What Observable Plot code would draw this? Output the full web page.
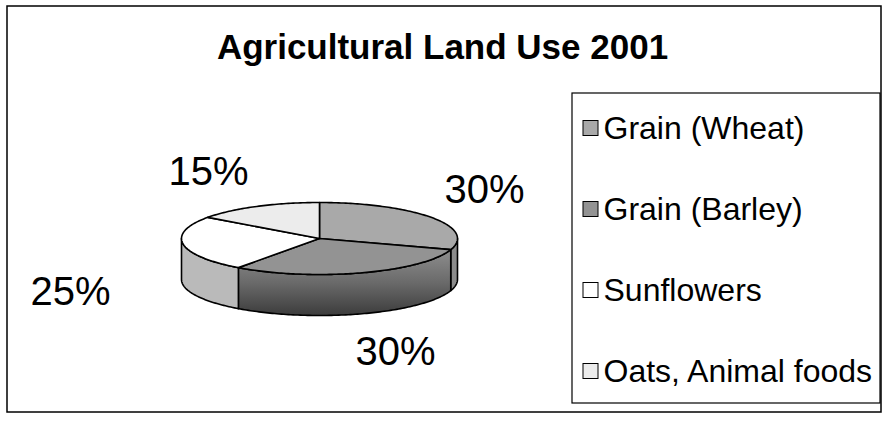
<!DOCTYPE html>
<html><head><meta charset="utf-8">
<script src="https://cdn.jsdelivr.net/npm/d3@7"></script>
<script src="https://cdn.jsdelivr.net/npm/@observablehq/plot@0.6"></script>
<style>html,body{margin:0;padding:0;background:#fff;}</style>
</head><body><div id="chart"></div>
<script>
// ---- data ----
const title = "Agricultural Land Use 2001";
const categories = ["Grain (Wheat)", "Grain (Barley)", "Sunflowers", "Oats, Animal foods"];
const values = [30, 30, 25, 15];
const topColors = ["#a9a9a9", "#939393", "#ffffff", "#ececec"];
const sideColors = ["#8c8c8c", "url(#barleySide)", "#bababa", "#cfcfcf"];

// ---- layout (pixels) ----
const W = 883, H = 430;
const font = "Liberation Sans, Arial, Helvetica, sans-serif";
const pie = {cx: 319, cy: 238, rx: 138, ry: 36, depth: 41};
const labelCenters = [[484, 190], [395, 352], [70, 292], [208, 172]]; // per slice label anchor
const legendBox = {x1: 572, y1: 93, x2: 880, y2: 403};
const legendRows = [128, 209, 290, 371];

// ---- geometry from values ----
const total = d3.sum(values);
let acc = 0;
const slices = categories.map((c, i) => {
  const a0 = acc / total * 360; acc += values[i];
  const a1 = acc / total * 360;
  return {cat: c, value: values[i], a0, a1, i};
});
const rad = d => d * Math.PI / 180;
const topPt = (deg, dy = 0) => ({x: pie.cx + pie.rx * Math.sin(rad(deg)), y: pie.cy - pie.ry * Math.cos(rad(deg)) + dy});

const topPts = [];
for (const s of slices) {
  topPts.push({key: s.cat, x: pie.cx, y: pie.cy});
  const n = Math.max(2, Math.ceil(s.a1 - s.a0));
  for (let k = 0; k <= n; k++) {
    const p = topPt(s.a0 + (s.a1 - s.a0) * k / n);
    topPts.push({key: s.cat, ...p});
  }
}
const sidePts = [];
for (const s of slices) {
  const a = Math.max(s.a0, 90), b = Math.min(s.a1, 270);
  if (b <= a) continue;
  const key = "side:" + s.cat;
  const n = Math.max(2, Math.ceil(b - a));
  for (let k = 0; k <= n; k++) sidePts.push({key, ...topPt(a + (b - a) * k / n)});
  for (let k = n; k >= 0; k--) sidePts.push({key, ...topPt(a + (b - a) * k / n, pie.depth)});
}
const labels = slices.map((s, i) => ({text: s.value + "%", x: labelCenters[i][0], y: labelCenters[i][1]}));
const legend = categories.map((c, i) => ({cat: c, y: legendRows[i]}));

const colorDomain = [...categories, ...categories.map(c => "side:" + c)];
const colorRange = [...topColors, ...sideColors];

const chart = Plot.plot({
  width: W, height: H,
  marginTop: 0, marginRight: 0, marginBottom: 0, marginLeft: 0,
  x: {domain: [0, W], range: [0, W], axis: null},
  y: {domain: [0, H], range: [0, H], axis: null},
  color: {type: "ordinal", domain: colorDomain, range: colorRange, legend: false},
  style: {fontFamily: font, background: "#fff", overflow: "visible"},
  marks: [
    // outer border
    Plot.rect([0], {x1: () => 7, x2: () => 881, y1: () => 6, y2: () => 412, fill: "none", stroke: "#000", strokeWidth: 1.5}),
    // title
    Plot.text([title], {x: () => 442, y: () => 47, text: d => d, fontSize: 35, fontWeight: "bold", fill: "#000", fontFamily: font}),
    // pie sides
    Plot.line(sidePts, {x: "x", y: "y", z: "key", fill: "key", stroke: "#000", strokeWidth: 1.6, curve: "linear-closed", strokeLinejoin: "round"}),
    // pie tops
    Plot.line(topPts, {x: "x", y: "y", z: "key", fill: "key", stroke: "#000", strokeWidth: 1.6, curve: "linear-closed", strokeLinejoin: "round"}),
    // percentage labels
    Plot.text(labels, {x: "x", y: "y", text: "text", fontSize: 40, fill: "#000", fontFamily: font}),
    // legend box
    Plot.rect([legendBox], {x1: "x1", x2: "x2", y1: "y1", y2: "y2", fill: "#fff", stroke: "#000", strokeWidth: 1.2}),
    Plot.rect(legend, {x1: () => 583, x2: () => 598, y1: d => d.y - 7.5, y2: d => d.y + 7.5, fill: "cat", stroke: "#000", strokeWidth: 1}),
    Plot.text(legend, {x: () => 603, y: "y", text: "cat", textAnchor: "start", fontSize: 32, fill: "#000", fontFamily: font})
  ]
});
// gradient for the shaded barley wall
const ns = "http://www.w3.org/2000/svg";
const defs = document.createElementNS(ns, "defs");
defs.innerHTML = `<linearGradient id="barleySide" x1="0" y1="0" x2="0" y2="1">
  <stop offset="0" stop-color="#8e8e8e"/><stop offset="0.5" stop-color="#6a6a6a"/><stop offset="1" stop-color="#3c3c3c"/></linearGradient>`;
chart.insertBefore(defs, chart.firstChild);
document.getElementById("chart").appendChild(chart);
</script>
</body></html>
